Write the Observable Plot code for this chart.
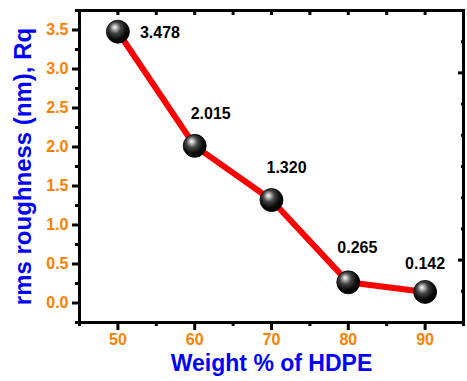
<!DOCTYPE html>
<html>
<head>
<meta charset="utf-8">
<script src="https://cdn.jsdelivr.net/npm/d3@7"></script>
<script src="https://cdn.jsdelivr.net/npm/@observablehq/plot@0.6"></script>
<style>
  html, body { margin: 0; padding: 0; background: #fff; }
  #chart svg { display: block; }
</style>
</head>
<body>
<div id="chart"></div>
<script>
// HDPE content (wt %) and measured rms roughness Rq (nm)
const weights = [50, 60, 70, 80, 90];
const roughness = [3.478, 2.015, 1.320, 0.265, 0.142];

// Axis ticks
const xTicks = [50, 60, 70, 80, 90];
const xMinorTicks = [45, 55, 65, 75, 85, 95];
const xTopTicks = [50, 55, 60, 65, 70, 75, 80, 85, 90];
const yTicks = [0, 0.5, 1, 1.5, 2, 2.5, 3, 3.5];
const yMinorTicks = [-0.25, 0.25, 0.75, 1.25, 1.75, 2.25, 2.75, 3.25, 3.75];
const yRightMajor = [0.55, 2.95];
const yRightMinor = [0.15, 0.95, 1.35, 1.75, 2.15, 2.55, 3.35];

const xLabel = "Weight % of HDPE";
const yLabel = "rms roughness (nm), Rq";

const points = weights.map((w, i) => ({w, rq: roughness[i]}));

const font = "Liberation Sans, Arial, Helvetica, sans-serif";
const orange = "#ff8000";
const blue = "#0000ff";

// per-point label placement relative to each ball
const labelOffsets = [
  {dx: 22, dy: 1, textAnchor: "start"},
  {dx: 16, dy: -32, textAnchor: "middle"},
  {dx: 15, dy: -32, textAnchor: "middle"},
  {dx: 9, dy: -34, textAnchor: "middle"},
  {dx: 0, dy: -28, textAnchor: "middle"}
];

const valueLabels = labelOffsets.map((o, k) =>
  Plot.text(points, {
    filter: (d, i) => i === k,
    x: "w", y: "rq",
    text: d => d.rq.toFixed(3),
    dx: o.dx, dy: o.dy, textAnchor: o.textAnchor,
    fill: "#000", fontSize: 16, fontWeight: "bold"
  })
);

const chart = Plot.plot({
  width: 467,
  height: 381,
  marginLeft: 79,
  marginRight: 4,
  marginTop: 10,
  marginBottom: 59,
  style: {fontFamily: font, background: "#fff"},
  x: {domain: [45, 95]},
  y: {domain: [-0.25, 3.75]},
  marks: [
    // bottom axis
    Plot.axisX({ticks: xMinorTicks, tickSize: 4, strokeWidth: 3, tickFormat: () => "", label: null}),
    Plot.axisX({ticks: xTicks, tickSize: 8, strokeWidth: 3, tickPadding: 3,
      fill: orange, fontSize: 16, fontWeight: "bold", label: null}),
    // top mirror ticks (inward)
    Plot.axisX({anchor: "top", ticks: xTopTicks, tickSize: -4, strokeWidth: 3, tickFormat: () => "", label: null}),
    // left axis
    Plot.axisY({ticks: yMinorTicks, tickSize: 4, strokeWidth: 3, tickFormat: () => "", label: null}),
    Plot.axisY({ticks: yTicks, tickSize: 7, strokeWidth: 3, tickPadding: 4,
      tickFormat: d3.format(".1f"), fill: orange, fontSize: 16, fontWeight: "bold", label: null}),
    // right mirror ticks (inward)
    Plot.axisY({anchor: "right", ticks: yRightMinor, tickSize: -3, strokeWidth: 3, tickFormat: () => "", label: null}),
    Plot.axisY({anchor: "right", ticks: yRightMajor, tickSize: -6, strokeWidth: 3, tickFormat: () => "", label: null}),
    Plot.frame({stroke: "#000", strokeWidth: 3}),
    // connecting line and ball markers
    Plot.line(points, {x: "w", y: "rq", stroke: "#ff0000", strokeWidth: 6}),
    Plot.dot(points, {x: "w", y: "rq", r: 11.5, fill: "url(#ball)", stroke: "#000", strokeWidth: 0.8}),
    ...valueLabels,
    // axis titles
    Plot.text([yLabel], {frameAnchor: "left", rotate: -90, dx: -56, text: d => d,
      textAnchor: "middle", lineAnchor: "middle",
      fill: blue, fontSize: 24, fontWeight: "bold"}),
    Plot.text([xLabel], {frameAnchor: "bottom", dy: 41, text: d => d,
      textAnchor: "middle", lineAnchor: "middle",
      fill: blue, fontSize: 23, fontWeight: "bold"})
  ]
});

// glossy sphere gradient for the markers
chart.insertAdjacentHTML("afterbegin",
  `<defs><radialGradient id="ball" cx="0.42" cy="0.38" r="0.62" fx="0.36" fy="0.3">
     <stop offset="0" stop-color="#ffffff"/>
     <stop offset="0.12" stop-color="#c8c8c8"/>
     <stop offset="0.4" stop-color="#444444"/>
     <stop offset="0.75" stop-color="#0a0a0a"/>
     <stop offset="1" stop-color="#000000"/>
   </radialGradient></defs>`);

document.getElementById("chart").appendChild(chart);
</script>
</body>
</html>
